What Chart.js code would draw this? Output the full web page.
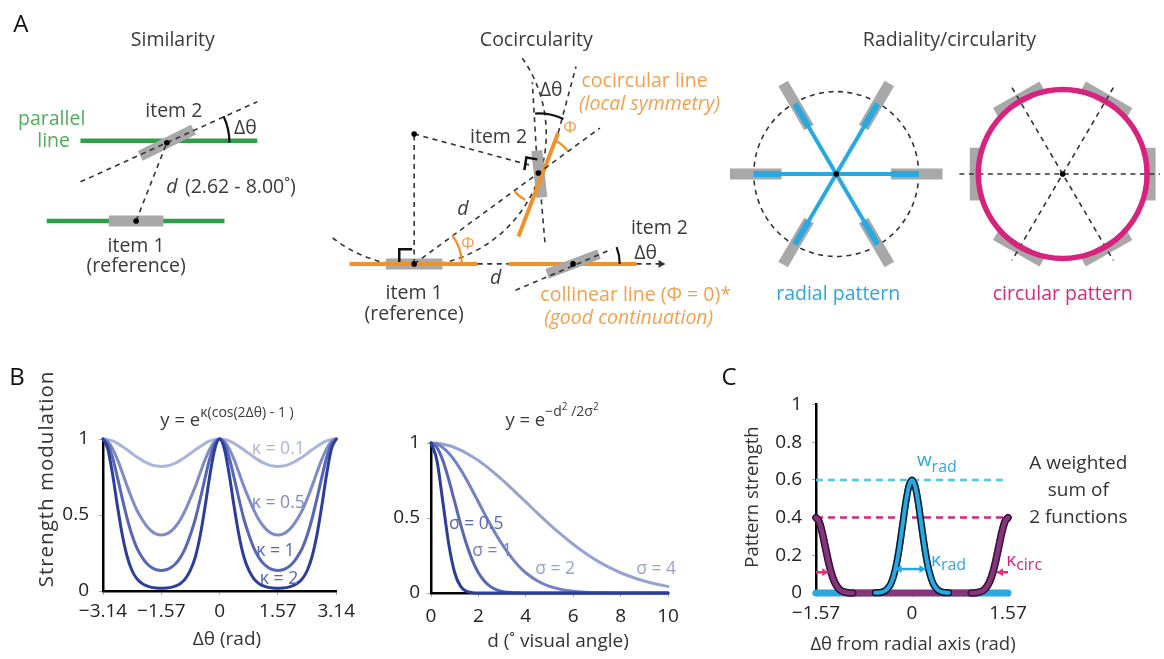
<!DOCTYPE html>
<html>
<head>
<meta charset="utf-8">
<script src="https://cdn.jsdelivr.net/npm/chart.js@4.4.1/dist/chart.umd.min.js"></script>
<style>
html,body{margin:0;padding:0;background:#fff;}
body{width:1164px;height:659px;position:relative;overflow:hidden;}
canvas{position:absolute;display:block;}
</style>
</head>
<body>
<canvas id="cA" width="1164" height="350" style="left:0;top:0;width:1164px;height:350px"></canvas>
<canvas id="cB1" width="360" height="309" style="left:0;top:350px;width:360px;height:309px"></canvas>
<canvas id="cB2" width="330" height="309" style="left:360px;top:350px;width:330px;height:309px"></canvas>
<canvas id="cC" width="474" height="309" style="left:690px;top:350px;width:474px;height:309px"></canvas>
<script>
// ================= DATA =================
// Panel B (left): strength modulation vs Δθ for four κ values
const thetaX = [-3.14,-3.01,-2.88,-2.75,-2.62,-2.49,-2.36,-2.23,-2.09,-1.96,-1.83,-1.70,-1.57,-1.44,-1.31,-1.18,-1.05,-0.92,-0.79,-0.65,-0.52,-0.39,-0.26,-0.13,0,0.13,0.26,0.39,0.52,0.65,0.79,0.92,1.05,1.18,1.31,1.44,1.57,1.70,1.83,1.96,2.09,2.23,2.36,2.49,2.62,2.75,2.88,3.01,3.14];
const kappa01 = [1,.997,.987,.971,.951,.929,.905,.882,.861,.843,.830,.822,.819,.822,.830,.843,.861,.882,.905,.929,.951,.971,.987,.997,1,.997,.987,.971,.951,.929,.905,.882,.861,.843,.830,.822,.819,.822,.830,.843,.861,.882,.905,.929,.951,.971,.987,.997,1];
const kappa05 = [1,.983,.935,.864,.779,.690,.607,.533,.472,.426,.393,.374,.368,.374,.393,.426,.472,.533,.607,.690,.779,.864,.935,.983,1,.983,.935,.864,.779,.690,.607,.533,.472,.426,.393,.374,.368,.374,.393,.426,.472,.533,.607,.690,.779,.864,.935,.983,1];
const kappa1 = [1,.967,.875,.746,.607,.477,.368,.284,.223,.181,.155,.140,.135,.140,.155,.181,.223,.284,.368,.477,.607,.746,.875,.967,1,.967,.875,.746,.607,.477,.368,.284,.223,.181,.155,.140,.135,.140,.155,.181,.223,.284,.368,.477,.607,.746,.875,.967,1];
const kappa2 = [1,.934,.765,.557,.368,.227,.135,.081,.050,.033,.024,.020,.018,.020,.024,.033,.050,.081,.135,.227,.368,.557,.765,.934,1,.934,.765,.557,.368,.227,.135,.081,.050,.033,.024,.020,.018,.020,.024,.033,.050,.081,.135,.227,.368,.557,.765,.934,1];
const thetaTicks = [-3.14,-1.57,0,1.57,3.14];
const thetaTickLabels = ['\u22123.14','\u22121.57','0','1.57','3.14'];
const strengthTicks = [0,0.5,1];
const strengthTickLabels = ['0','0.5','1'];

// Panel B (right): strength vs distance d for four σ values
const dX = [0,0.25,0.5,0.75,1,1.25,1.5,1.75,2,2.25,2.5,2.75,3,3.25,3.5,3.75,4,4.5,5,5.5,6,6.5,7,7.5,8,8.5,9,9.5,10];
const sigma05 = [1,.883,.607,.325,.135,.044,.011,.002,0,0,0,0,0,0,0,0,0,0,0,0,0,0,0,0,0,0,0,0,0];
const sigma1  = [1,.969,.883,.755,.607,.458,.325,.216,.135,.080,.044,.023,.011,.005,.002,.001,0,0,0,0,0,0,0,0,0,0,0,0,0];
const sigma2  = [1,.992,.969,.932,.883,.823,.755,.682,.607,.531,.458,.389,.325,.267,.216,.172,.135,.080,.044,.023,.011,.005,.002,.001,0,0,0,0,0];
const sigma4  = [1,.998,.992,.983,.969,.952,.932,.909,.883,.854,.823,.790,.755,.719,.682,.644,.607,.531,.458,.389,.325,.267,.216,.172,.135,.105,.080,.060,.044];
const dTicks = [0,2,4,6,8,10];
const dTickLabels = ['0','2','4','6','8','10'];

// Panel C: pattern strength vs Δθ from radial axis
const cX = [-1.57,-1.52,-1.47,-1.42,-1.37,-1.32,-1.27,-1.22,-1.17,-1.12,-1.07,-0.97,-0.80,-0.60,-0.50,-0.45,-0.40,-0.35,-0.30,-0.25,-0.20,-0.15,-0.10,-0.05,0,0.05,0.10,0.15,0.20,0.25,0.30,0.35,0.40,0.45,0.50,0.60,0.80,0.97,1.07,1.12,1.17,1.22,1.27,1.32,1.37,1.42,1.47,1.52,1.57];
const radialY = [0,0,0,0,0,0,0,0,0,0,0,0,0,.001,.004,.010,.023,.047,.091,.160,.256,.370,.484,.568,.600,.568,.484,.370,.256,.160,.091,.047,.023,.010,.004,.001,0,0,0,0,0,0,0,0,0,0,0,0,0];
const circY = [.400,.379,.323,.247,.171,.107,.061,.032,.015,.007,.003,0,0,0,0,0,0,0,0,0,0,0,0,0,0,0,0,0,0,0,0,0,0,0,0,0,0,0,.003,.007,.015,.032,.061,.107,.171,.247,.323,.379,.400];
const wRad = 0.6;
const wCirc = 0.4;
const cXTicks = [-1.57,0,1.57];
const cXTickLabels = ['\u22121.57','0','1.57'];
const cYTicks = [0,0.2,0.4,0.6,0.8,1];
const cYTickLabels = ['0','0.2','0.4','0.6','0.8','1'];

// Panel A: schematic geometry (diagram units)
const greenLines = [[77,140,255,140],[43,222,222,222]];
const orangeLines = [[348,266,477,266],[508,266,637,266],[518,238,558,132]];
const grayItemsLow = [[133,222,0,55],[164,142,-26.6,60],[413,266,0,57],[539,174,84,48]]; // cx,cy,angle,len
const grayItemsHigh = [[573,266,-21,56]];
const dashedLines = [[77,182,255,100],[133,222,164,142],[413,266,413,133],[413,133,530,165],[413,266,600,127],
  [477,266,508,266],[637,266,660,266],[515,293,612,251],[541,200,545,248],[536,150,532,80],[558,132,576,64]];
const dashedCircles = [[838,174,83,0,360],[413,133,133,-35,129]]; // cx,cy,r,fromDeg,toDeg
const radialCenter = [838,174];
const spokeAngles = [0,60,120,180,240,300];
const spokeLength = 83;
const radialItemRadius = 81, radialItemLength = 52;
const circCenter = [1066,174];
const circRadius = 85;
const circItemRadius = 88, circItemLength = 54;
const circDiameterHalf = 102;
const circHorizontal = [962,174,1164,174];
const dots = [[133,222],[164,142],[413,266],[413,133],[538,173],[573,266],[838,174],[1066,174]];
const angleArcs = [[164,142,63,-25,0,'#111'],[538,173,60,-93,-65,'#111'],[573,266,47,-21,0,'#111'],
  [413,266,48,-37,0,'#f0922c'],[538,173,37,-64,-37,'#f0922c'],[538,173,30,116,143,'#f0922c']];
const rightAngles = [[[398,264],[398,251],[411,251]],[[524,170],[526,157],[537,159]]];
const ORANGE_T = '#f2a04e';
const aTexts = [
 ['A',17,22,{size:24,color:'#111'}],
 ['Similarity',170,37,{}],
 ['Cocircularity',536,37,{}],
 ['Radiality/circularity',952,37,{}],
 ['parallel',48,118,{color:'#4fae5c'}],
 ['line',50,141,{color:'#4fae5c'}],
 ['item 2',171,110,{}],
 ['\u0394\u03b8',243,127,{}],
 ['d',169,188,{style:'italic'}],
 ['(2.62 - 8.00\u02da)',238,188,{}],
 ['item 1',133,248,{}],
 ['(reference)',133,269,{}],
 ['item 2',498,137,{}],
 ['\u0394\u03b8',551,88,{}],
 ['\u03a6',570,127,{color:ORANGE_T,size:17}],
 ['cocircular line',645,79,{color:ORANGE_T}],
 ['(local symmetry)',650,103,{color:ORANGE_T,style:'italic'}],
 ['d',462,210,{style:'italic'}],
 ['\u03a6',467,246,{color:ORANGE_T,size:17}],
 ['d',495,281,{style:'italic'}],
 ['item 2',660,230,{}],
 ['\u0394\u03b8',646,255,{}],
 ['item 1',413,296,{}],
 ['(reference)',413,318,{}],
 ['collinear line (\u03a6 = 0)*',636,298,{color:ORANGE_T}],
 ['(good continuation)',629,322,{color:ORANGE_T,style:'italic'}],
 ['radial pattern',840,297,{color:'#2ba6de'}],
 ['circular pattern',1066,297,{color:'#d6287f'}]
];

// ================= HELPERS =================
const FONT = "'Open Sans', sans-serif";
Chart.defaults.font.family = FONT;
Chart.defaults.animation = false;
Chart.defaults.responsive = false;
Chart.defaults.plugins.legend.display = false;
Chart.defaults.plugins.tooltip.enabled = false;

const D2R = Math.PI/180;
function segs(list){const d=[];list.forEach(s=>{d.push({x:s[0],y:s[1]},{x:s[2],y:s[3]},{x:NaN,y:NaN});});return d;}
function itemSegs(list){return segs(list.map(([cx,cy,a,l])=>{const dx=Math.cos(a*D2R)*l/2,dy=Math.sin(a*D2R)*l/2;return [cx-dx,cy-dy,cx+dx,cy+dy];}));}
function pts(xs,ys){return xs.map((x,i)=>({x:x,y:ys[i]}));}
function fontStr(o){return (o.style||'')+' '+(o.weight||'')+' '+(o.size||18)+'px '+FONT;}
function txt(ctx,s,x,y,o){o=o||{};ctx.save();ctx.font=fontStr(o);ctx.fillStyle=o.color||'#3a3a3a';ctx.textAlign=o.align||'center';ctx.textBaseline=o.base||'middle';
  if(o.spacing){ctx.letterSpacing=o.spacing;}
  if(o.rot){ctx.translate(x,y);ctx.rotate(o.rot);ctx.fillText(s,0,0);}else ctx.fillText(s,x,y);ctx.restore();}
function rich(ctx,parts,x,y,align){ctx.save();let w=0;parts.forEach(p=>{ctx.font=fontStr(p);w+=ctx.measureText(p.t).width;});
  let cx=align==='center'?x-w/2:(align==='right'?x-w:x);ctx.textAlign='left';ctx.textBaseline='alphabetic';
  parts.forEach(p=>{ctx.font=fontStr(p);ctx.fillStyle=p.color||'#3a3a3a';ctx.fillText(p.t,cx,y+(p.dy||0));cx+=ctx.measureText(p.t).width;});ctx.restore();}
const LINE = {showLine:true,pointRadius:0,borderCapStyle:'butt',spanGaps:false,clip:false,fill:false};

// ================= PANEL A =================
const spokeSegs = spokeAngles.map(a=>[radialCenter[0],radialCenter[1],radialCenter[0]+spokeLength*Math.cos(a*D2R),radialCenter[1]+spokeLength*Math.sin(a*D2R)]);
const spokeThick = spokeAngles.map(a=>[radialCenter[0]+56*Math.cos(a*D2R),radialCenter[1]+56*Math.sin(a*D2R),radialCenter[0]+spokeLength*Math.cos(a*D2R),radialCenter[1]+spokeLength*Math.sin(a*D2R)]);
const radialItems = spokeAngles.map(a=>[radialCenter[0]+radialItemRadius*Math.cos(a*D2R),radialCenter[1]+radialItemRadius*Math.sin(a*D2R),a,radialItemLength]);
const circItems = spokeAngles.map(a=>[circCenter[0]+circItemRadius*Math.cos(a*D2R),circCenter[1]+circItemRadius*Math.sin(a*D2R),a+90,circItemLength]);
const circDiams = [60,120].map(a=>[circCenter[0]-circDiameterHalf*Math.cos(a*D2R),circCenter[1]-circDiameterHalf*Math.sin(a*D2R),circCenter[0]+circDiameterHalf*Math.cos(a*D2R),circCenter[1]+circDiameterHalf*Math.sin(a*D2R)]).concat([circHorizontal]);

const panelAPlugin = {
  id:'panelA',
  beforeDatasetsDraw(chart){
    const {ctx,scales:{x,y}}=chart;const X=v=>x.getPixelForValue(v),Y=v=>y.getPixelForValue(v),R=r=>X(r)-X(0);
    ctx.save();ctx.setLineDash([5,4.5]);ctx.strokeStyle='#333';ctx.lineWidth=1.6;
    dashedCircles.forEach(([cx,cy,r,a0,a1])=>{ctx.beginPath();ctx.arc(X(cx),Y(cy),R(r),a0*D2R,a1*D2R);ctx.stroke();});
    ctx.restore();
  },
  afterDatasetsDraw(chart){
    const {ctx,scales:{x,y}}=chart;const X=v=>x.getPixelForValue(v),Y=v=>y.getPixelForValue(v),R=r=>X(r)-X(0);
    ctx.save();
    ctx.strokeStyle='#d6247e';ctx.lineWidth=5.5;ctx.beginPath();ctx.arc(X(circCenter[0]),Y(circCenter[1]),R(circRadius),0,2*Math.PI);ctx.stroke();
    angleArcs.forEach(([cx,cy,r,a0,a1,c])=>{ctx.strokeStyle=c;ctx.lineWidth=2.2;ctx.beginPath();ctx.arc(X(cx),Y(cy),R(r),a0*D2R,a1*D2R);ctx.stroke();});
    ctx.strokeStyle='#111';ctx.lineWidth=2.5;
    rightAngles.forEach(p=>{ctx.beginPath();ctx.moveTo(X(p[0][0]),Y(p[0][1]));p.slice(1).forEach(q=>ctx.lineTo(X(q[0]),Y(q[1])));ctx.stroke();});
    ctx.fillStyle='#333';ctx.beginPath();ctx.moveTo(X(666),Y(266));ctx.lineTo(X(659),Y(262));ctx.lineTo(X(659),Y(270));ctx.closePath();ctx.fill();
    ctx.restore();
    aTexts.forEach(([s,tx,ty,o])=>txt(ctx,s,X(tx),Y(ty),Object.assign({size:19.5},o)));
  }
};

new Chart(document.getElementById('cA'),{
  type:'scatter',
  data:{datasets:[
    Object.assign({},LINE,{data:segs(greenLines),borderColor:'#2f9e47',borderWidth:4.5,order:12}),
    Object.assign({},LINE,{data:itemSegs(grayItemsLow.concat(radialItems,circItems)),borderColor:'#a8a8a8',borderWidth:11,order:10}),
    Object.assign({},LINE,{data:segs(orangeLines),borderColor:'#f0922c',borderWidth:4,order:8}),
    Object.assign({},LINE,{data:itemSegs(grayItemsHigh),borderColor:'#a8a8a8',borderWidth:10,order:7}),
    Object.assign({},LINE,{data:segs(spokeSegs),borderColor:'#29a9e1',borderWidth:4,order:6}),
    Object.assign({},LINE,{data:segs(spokeThick),borderColor:'#29a9e1',borderWidth:6,order:6}),
    Object.assign({},LINE,{data:segs(dashedLines.concat(circDiams)),borderColor:'#333',borderWidth:1.6,borderDash:[5,4.5],order:5}),
    {data:dots.map(p=>({x:p[0],y:p[1]})),pointRadius:2.8,pointBackgroundColor:'#000',pointBorderWidth:0,showLine:false,order:1}
  ]},
  options:{layout:{padding:0},events:[],
    scales:{x:{type:'linear',min:0,max:1164,display:false},y:{type:'linear',min:0,max:350,reverse:true,display:false}}},
  plugins:[panelAPlugin]
});

// ================= COMMON AXIS CONFIG =================
function axis(min,max,ticks,labels,fit,isX,pad){
  return {type:'linear',min:min,max:max,
    afterBuildTicks:s=>{s.ticks=ticks.map(v=>({value:v}));},
    afterFit:s=>{if(isX)s.height=fit;else s.width=fit;},
    ticks:{callback:(v,i)=>labels[i],font:{size:19},color:'#222',padding:pad,maxRotation:0,autoSkip:false},
    grid:{display:true,drawOnChartArea:false,drawTicks:true,tickLength:4,color:'#aaa'},
    border:{display:true,color:'#000',width:2.5}};
}
function curve(xs,ys,color,w,order){return Object.assign({},LINE,{data:pts(xs,ys),borderColor:color,borderWidth:w,cubicInterpolationMode:'monotone',borderCapStyle:'round',order:order});}

// ================= PANEL B LEFT =================
const K_COL = ['#abb4db','#7f8bc7','#5767b6','#2c3d9c'];
new Chart(document.getElementById('cB1'),{
  type:'scatter',
  data:{datasets:[curve(thetaX,kappa2,K_COL[3],3,1),curve(thetaX,kappa1,K_COL[2],3,2),curve(thetaX,kappa05,K_COL[1],3,3),curve(thetaX,kappa01,K_COL[0],3,4)]},
  options:{events:[],layout:{padding:{top:89,right:15,left:0,bottom:0}},
    scales:{x:axis(-3.14,3.14,thetaTicks,thetaTickLabels,68,true,5),y:axis(0,1,strengthTicks,strengthTickLabels,103,false,10)}},
  plugins:[{id:'b1',afterDraw(chart){
    const {ctx,chartArea:a,scales:{x,y}}=chart;
    txt(ctx,'B',17,28,{size:24,color:'#111'});
    rich(ctx,[{t:'y = e',size:18.5},{t:'\u03ba(cos(2\u0394\u03b8) - 1 )',size:14,dy:-9}],227,76,'center');
    txt(ctx,'Strength modulation',a.left-56,129,{rot:-Math.PI/2,size:20.5,color:'#333',spacing:'1px'});
    txt(ctx,'\u0394\u03b8 (rad)',227,290,{size:19,color:'#333'});
    const lab=[['\u03ba = 0.1',1.58,0.90,K_COL[0]],['\u03ba = 0.5',1.58,0.546,K_COL[1]],['\u03ba = 1',1.50,0.23,K_COL[2]],['\u03ba = 2',1.60,0.046,K_COL[2]]];
    lab.forEach(l=>txt(ctx,l[0],x.getPixelForValue(l[1]),y.getPixelForValue(l[2]),{size:17.5,color:l[3],base:'alphabetic'}));
  }}]
});

// ================= PANEL B RIGHT =================
const S_COL = ['#2c3d9c','#5767b6','#7380c2','#97a2d3'];
new Chart(document.getElementById('cB2'),{
  type:'scatter',
  data:{datasets:[curve(dX,sigma05,S_COL[0],3,1),curve(dX,sigma1,S_COL[1],3,2),curve(dX,sigma2,S_COL[2],3,3),curve(dX,sigma4,S_COL[3],3,4)]},
  options:{events:[],layout:{padding:{top:93,right:22,left:0,bottom:0}},
    scales:{x:axis(0,10,dTicks,dTickLabels,66,true,8),y:axis(0,1,strengthTicks,strengthTickLabels,71,false,7)}},
  plugins:[{id:'b2',afterDraw(chart){
    const {ctx,chartArea:a,scales:{x,y}}=chart;
    rich(ctx,[{t:'y = e',size:18.5},{t:'\u2212d',size:14,dy:-10},{t:'2',size:10,dy:-16},{t:' /2\u03c3',size:14,dy:-10},{t:'2',size:10,dy:-16}],192,76,'center');
    txt(ctx,'d (\u02da visual angle)',198,292,{size:19,color:'#333'});
    const lab=[['\u03c3 = 0.5',1.91,0.427,S_COL[1]],['\u03c3 = 1',2.58,0.247,S_COL[2]],['\u03c3 = 2',5.24,0.127,S_COL[3]],['\u03c3 = 4',9.5,0.127,S_COL[3]]];
    lab.forEach(l=>txt(ctx,l[0],x.getPixelForValue(l[1]),y.getPixelForValue(l[2]),{size:17.5,color:l[3],base:'alphabetic'}));
  }}]
});

// ================= PANEL C =================
const CYAN='#2aa8e0', PURPLE='#85357c', MAG='#d0287f';
const nz = c => (c.p0.parsed.y>0.0015||c.p1.parsed.y>0.0015);
function outline(xs,ys,color,w,order){const d=curve(xs,ys,color,w,order);d.segment={borderColor:c=>nz(c)?color:'rgba(0,0,0,0)'};return d;}
new Chart(document.getElementById('cC'),{
  type:'scatter',
  data:{datasets:[
    outline(cX,circY,PURPLE,4.5,1),
    outline(cX,circY,'#3a1233',7.5,2),
    outline(cX,radialY,CYAN,4,3),
    outline(cX,radialY,'#0d1a2a',7,4),
    curve(cX,circY,PURPLE,7,5),
    curve(cX,radialY,CYAN,7,6),
    Object.assign({},LINE,{data:[{x:-1.57,y:wRad},{x:1.57,y:wRad}],borderColor:'#5cc2e4',borderWidth:2.5,borderDash:[7,5],order:7}),
    Object.assign({},LINE,{data:[{x:-1.57,y:wCirc},{x:1.57,y:wCirc}],borderColor:MAG,borderWidth:2.5,borderDash:[7,5],order:7})
  ]},
  options:{events:[],layout:{padding:{top:54.5,right:156,left:0,bottom:0}},
    scales:{x:axis(-1.57,1.57,cXTicks,cXTickLabels,66,true,5),y:axis(0,1,cYTicks,cYTickLabels,126,false,10)}},
  plugins:[{id:'c',afterDraw(chart){
    const {ctx,chartArea:a,scales:{x,y}}=chart;const X=v=>x.getPixelForValue(v),Y=v=>y.getPixelForValue(v);
    txt(ctx,'C',39,28,{size:24,color:'#111'});
    txt(ctx,'Pattern strength',a.left-63,147,{rot:-Math.PI/2,size:18.5,color:'#333'});
    txt(ctx,'\u0394\u03b8 from radial axis (rad)',223,295,{size:18.5,color:'#333'});
    rich(ctx,[{t:'w',size:19,color:CYAN},{t:'rad',size:16,dy:6,color:CYAN}],X(0.08),Y(0.674),'left');
    rich(ctx,[{t:'\u03ba',size:19,color:CYAN},{t:'rad',size:16,dy:4,color:CYAN}],X(0.31),Y(0.143),'left');
    rich(ctx,[{t:'\u03ba',size:19,color:MAG},{t:'circ',size:16,dy:4,color:MAG}],X(1.54),Y(0.143),'left');
    [['A weighted',0.658],['sum of',0.515],['2 functions',0.371]].forEach(l=>txt(ctx,l[0],X(2.72),Y(l[1]),{size:19,color:'#333',base:'alphabetic'}));
    ctx.save();
    function arrow(x0,x1,yv,col,both){const px0=X(x0),px1=X(x1),py=Y(yv);ctx.strokeStyle=col;ctx.fillStyle=col;ctx.lineWidth=2.5;
      ctx.beginPath();ctx.moveTo(px0,py);ctx.lineTo(px1,py);ctx.stroke();
      const head=(px,dir)=>{ctx.beginPath();ctx.moveTo(px,py);ctx.lineTo(px-dir*6,py-4);ctx.lineTo(px-dir*6,py+4);ctx.closePath();ctx.fill();};
      head(px1,Math.sign(px1-px0));if(both)head(px0,Math.sign(px0-px1));}
    arrow(-0.27,0.22,0.127,CYAN,true);
    arrow(-1.57,-1.37,0.11,'#e0307f',false);
    arrow(1.57,1.39,0.11,'#e0307f',false);
    ctx.restore();
  }}]
});
</script>
</body>
</html>
